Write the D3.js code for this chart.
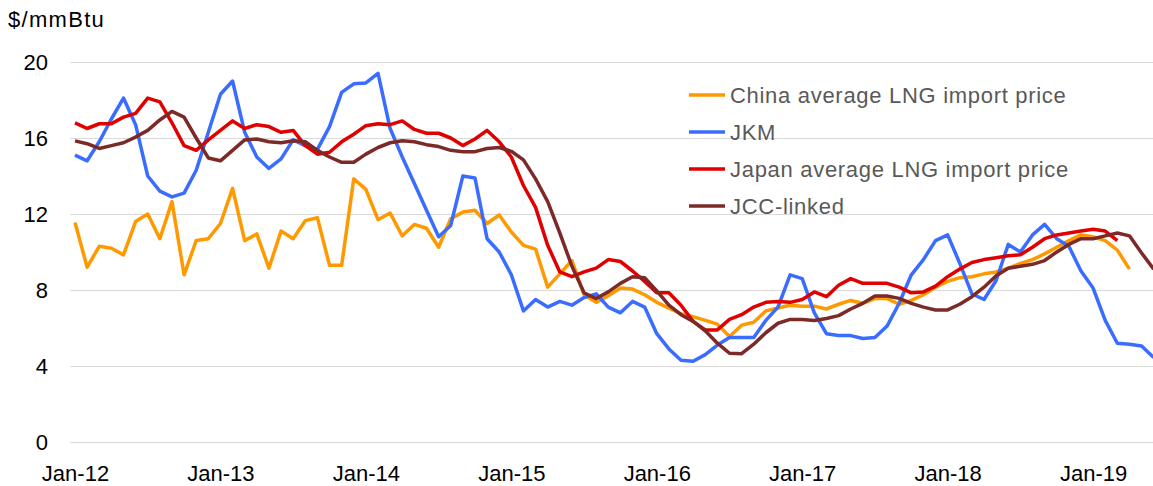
<!DOCTYPE html>
<html>
<head>
<meta charset="utf-8">
<script src="https://cdn.jsdelivr.net/npm/d3@7"></script>
<style>
  body { margin: 0; background: #fff; }
  text { font-family: "Liberation Sans", Arial, sans-serif; }
</style>
</head>
<body>
<script>
// monthly, Jan-12 .. Jun-19
var startYear = 2012, monthCount = 90;
var tickLabels = ["Jan-12", "Jan-13", "Jan-14", "Jan-15", "Jan-16", "Jan-17", "Jan-18", "Jan-19"];
var yTicks = [0, 4, 8, 12, 16, 20];

var chinaLng = [11.55, 9.2, 10.3, 10.2, 9.85, 11.6, 12.0, 10.7, 12.65, 8.8, 10.6, 10.7,
  11.5, 13.35, 10.6, 10.95, 9.15, 11.1, 10.7, 11.65, 11.8, 9.3, 9.3, 13.85,
  13.3, 11.7, 12.05, 10.85, 11.45, 11.25, 10.25, 11.75, 12.1, 12.2, 11.5, 11.95,
  11.05, 10.35, 10.15, 8.15, 8.85, 9.55, 7.75, 7.35, 7.7, 8.1, 8.05, 7.75,
  7.35, 7.05, 6.75, 6.6, 6.4, 6.2, 5.55, 6.15, 6.3, 6.9, 7.05, 7.2,
  7.15, 7.15, 7.0, 7.25, 7.45, 7.3, 7.55, 7.55, 7.25, 7.45, 7.75, 8.15,
  8.45, 8.65, 8.7, 8.85, 8.95, 9.15, 9.4, 9.6, 9.9, 10.25, 10.6, 10.9,
  10.8, 10.6, 10.1, 9.1];

var jkm = [15.1, 14.8, 15.8, 17.0, 18.1, 16.7, 14.0, 13.2, 12.9, 13.1, 14.3, 16.3,
  18.3, 19.0, 16.3, 15.0, 14.4, 14.9, 15.9, 15.6, 15.4, 16.6, 18.4, 18.85,
  18.9, 19.4, 16.5, 15.0, 13.6, 12.2, 10.8, 11.4, 14.0, 13.9, 10.7, 10.0,
  8.8, 6.9, 7.5, 7.1, 7.4, 7.2, 7.6, 7.8, 7.1, 6.8, 7.4, 7.1,
  5.7, 4.9, 4.3, 4.25, 4.6, 5.1, 5.5, 5.5, 5.5, 6.4, 7.1, 8.8,
  8.6, 6.8, 5.7, 5.6, 5.6, 5.45, 5.5, 6.1, 7.3, 8.8, 9.6, 10.6,
  10.9, 9.4, 7.8, 7.5, 8.5, 10.4, 10.0, 10.9, 11.45, 10.7, 10.3, 9.0,
  8.1, 6.4, 5.2, 5.15, 5.05, 4.45];

var japanLng = [16.8, 16.5, 16.75, 16.75, 17.1, 17.3, 18.1, 17.9, 16.8, 15.6, 15.35, 15.9,
  16.4, 16.9, 16.5, 16.7, 16.6, 16.3, 16.4, 15.6, 15.15, 15.25, 15.8, 16.2,
  16.65, 16.75, 16.7, 16.9, 16.45, 16.25, 16.25, 16.0, 15.6, 15.95, 16.4, 15.8,
  15.0, 13.5, 12.35, 10.35, 8.95, 8.7, 8.95, 9.15, 9.6, 9.5, 9.0, 8.45,
  7.85, 7.85, 7.2, 6.35, 5.9, 5.9, 6.45, 6.7, 7.1, 7.35, 7.4, 7.35,
  7.5, 7.9, 7.65, 8.25, 8.6, 8.35, 8.35, 8.35, 8.15, 7.85, 7.9, 8.2,
  8.7, 9.1, 9.45, 9.6, 9.7, 9.8, 9.85, 10.25, 10.7, 10.9, 11.0, 11.1,
  11.2, 11.1, 10.6];

var jccLinked = [15.85, 15.7, 15.45, 15.6, 15.75, 16.05, 16.4, 16.95, 17.4, 17.1, 16.0, 14.95,
  14.8, 15.35, 15.9, 15.95, 15.8, 15.75, 15.85, 15.8, 15.35, 15.0, 14.72, 14.72,
  15.15, 15.5, 15.75, 15.85, 15.8, 15.65, 15.55, 15.35, 15.28, 15.28, 15.45, 15.5,
  15.3, 14.85, 13.85, 12.65, 11.0, 9.25, 7.85, 7.55, 7.9, 8.35, 8.7, 8.65,
  7.95, 7.2, 6.7, 6.35, 5.85, 5.2, 4.67, 4.65, 5.15, 5.75, 6.25, 6.45,
  6.45, 6.4, 6.5, 6.65, 7.0, 7.3, 7.68, 7.68, 7.56, 7.3, 7.1, 6.95,
  6.95, 7.25, 7.65, 8.15, 8.75, 9.15, 9.25, 9.35, 9.55, 10.0, 10.4, 10.7,
  10.7, 10.85, 11.0, 10.85, 9.95, 9.1];

var seriesNames = ["China average LNG import price", "JKM", "Japan average LNG import price", "JCC-linked"];
var seriesColors = ["#ff9900", "#3a6cff", "#e00000", "#7b2a28"];
var seriesData = [chinaLng, jkm, japanLng, jccLinked];

var width = 1153, height = 486;
var mon = ["Jan","Feb","Mar","Apr","May","Jun","Jul","Aug","Sep","Oct","Nov","Dec"];
var months = d3.range(monthCount).map(function(i){
	return mon[i % 12] + "-" + String(startYear + Math.floor(i / 12)).slice(2);
});

var svg = d3.select("body").append("svg")
	.attr("width", width)
	.attr("height", height);

var x = d3.scalePoint()
	.domain(months)
	.range([75, 1153.7]);

var y = d3.scaleLinear()
	.domain([0, 20])
	.range([442, 62]);

// y axis + gridlines
var yAxis = svg.append("g")
	.attr("transform", "translate(70,0)")
	.call(d3.axisLeft(y).tickValues(yTicks).tickSize(-(width - 70)).tickPadding(22));
yAxis.select(".domain").remove();
yAxis.selectAll("line").attr("stroke", "#d9d9d9").attr("stroke-width", 1.2);
yAxis.selectAll("text").attr("font-size", 22).attr("fill", "#000")
	.attr("font-family", "Liberation Sans, Arial, sans-serif");

// x axis
var xAxis = svg.append("g")
	.attr("transform", "translate(0,465)")
	.call(d3.axisBottom(x).tickValues(tickLabels).tickSize(0).tickPadding(0));
xAxis.select(".domain").remove();
xAxis.selectAll("text").attr("font-size", 22).attr("fill", "#000")
	.attr("font-family", "Liberation Sans, Arial, sans-serif");

svg.append("text")
	.attr("x", 8)
	.attr("y", 27)
	.attr("font-size", 22)
	.attr("letter-spacing", 1.3)
	.attr("fill", "#000")
	.text("$/mmBtu");

var line = d3.line()
	.x(function(d, i){ return x(months[i]); })
	.y(function(d){ return y(d); });

svg.selectAll(".series")
	.data(seriesData)
	.enter()
	.append("path")
	.attr("class", "series")
	.attr("fill", "none")
	.attr("stroke", function(d, i){ return seriesColors[i]; })
	.attr("stroke-width", 3.5)
	.attr("stroke-linejoin", "round")
	.attr("d", line);

// legend
var legend = svg.selectAll(".leg")
	.data(seriesNames)
	.enter()
	.append("g")
	.attr("class", "leg")
	.attr("transform", function(d, i){ return "translate(689," + (95 + i * 37) + ")"; });

legend.append("line")
	.attr("x1", 0).attr("x2", 36)
	.attr("stroke", function(d, i){ return seriesColors[i]; })
	.attr("stroke-width", 3.5);

legend.append("text")
	.attr("x", 41)
	.attr("dy", "0.36em")
	.attr("font-size", 22)
	.attr("fill", "#595959")
	.attr("letter-spacing", 0.7)
	.text(function(d){ return d; });
</script>
</body>
</html>
